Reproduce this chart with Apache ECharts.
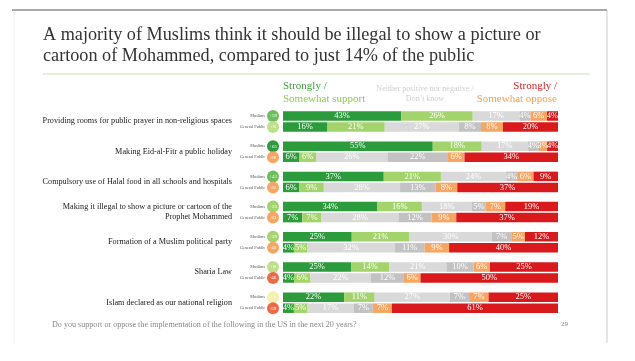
<!DOCTYPE html>
<html><head><meta charset="utf-8">
<script src="https://cdn.jsdelivr.net/npm/echarts@6/dist/echarts.min.js"></script>
<style>html,body{margin:0;padding:0;background:#fff}#c{width:635px;height:361px}</style>
</head><body><div id="c"></div>
<script>
const items = [
  'Providing rooms for public prayer in non-religious spaces',
  'Making Eid-al-Fitr a public holiday',
  'Compulsory use of Halal food in all schools and hospitals',
  'Making it illegal to show a picture or cartoon of the\nProphet Mohammed',
  'Formation of a Muslim political party',
  'Sharia Law',
  'Islam declared as our national religion'
];
const groups = ['Muslims', 'General Public'];
const segments = ['Strongly support', 'Somewhat support', 'Neither positive nor negative', "Don't know", 'Somewhat oppose', 'Strongly oppose'];
const muslims = [
  [43, 26, 17, 4, 6, 4],
  [55, 18, 17, 4, 3, 4],
  [37, 21, 24, 4, 6, 9],
  [34, 16, 18, 5, 7, 19],
  [25, 21, 30, 7, 5, 12],
  [25, 14, 21, 10, 6, 25],
  [22, 11, 27, 7, 7, 25]
];
const generalPublic = [
  [16, 21, 27, 8, 8, 20],
  [6, 6, 26, 22, 6, 34],
  [6, 9, 28, 13, 8, 37],
  [7, 7, 28, 12, 9, 37],
  [4, 5, 32, 11, 9, 40],
  [4, 6, 22, 12, 6, 50],
  [4, 5, 17, 7, 7, 61]
];
const netMuslims = ['+59', '+65', '+43', '+23', '+29', '+8', '+1'];
const netPublic = ['+8', '-28', '-31', '-33', '-40', '-46', '-59'];

const segColors = ['#2b9b3b', '#a3d46b', '#d9d9d9', '#c2c2c2', '#f7a562', '#d9191c'];
const FONT = "'Liberation Serif', 'DejaVu Serif', serif";

function netColor(s) {
  const v = parseInt(s, 10);
  if (v >= 60) return '#2b9b3b';
  if (v >= 40) return '#6cbf5a';
  if (v >= 15) return '#a3d46b';
  if (v >= 5) return '#bfe08a';
  if (v >= 0) return '#f3f0b0';
  if (v > -42) return '#f7a562';
  return '#ec6a45';
}

const rowStep = 30.2;
const gridTop0 = 110.5;
const grids = [], xAxes = [], yAxes = [], series = [], graphics = [];
const richStyles = { n: { fontSize: 4.2, color: '#555', fontFamily: FONT, padding: [0, 2, 0, 0] } };

items.forEach((name, i) => {
  grids.push({ left: 283, right: 77, top: gridTop0 + i * rowStep, height: 22, containLabel: false });
  xAxes.push({ gridIndex: i, type: 'value', min: 0, max: 100, show: false });
  const nets = [netMuslims[i], netPublic[i]];
  nets.forEach((s, j) => {
    richStyles['c' + i + '_' + j] = {
      backgroundColor: netColor(s), borderRadius: 6, width: 12, height: 12,
      align: 'center', color: '#fff', fontSize: 5, fontFamily: FONT, lineHeight: 12
    };
  });
  yAxes.push({
    gridIndex: i, type: 'category', data: groups, inverse: true,
    axisLine: { show: false }, axisTick: { show: false }, splitLine: { show: false },
    axisLabel: {
      margin: 4, interval: 0, hideOverlap: false,
      formatter: (v, idx) => '{n|' + v + '}{c' + i + '_' + idx + '|' + nets[idx] + '}',
      rich: richStyles
    }
  });
  const totM = muslims[i].reduce((a, b) => a + b, 0);
  const totP = generalPublic[i].reduce((a, b) => a + b, 0);
  segments.forEach((seg, k) => {
    series.push({
      name: seg, type: 'bar', stack: 's' + i, xAxisIndex: i, yAxisIndex: i,
      barWidth: 9.5,
      itemStyle: { color: segColors[k] },
      label: {
        show: true, position: 'inside', color: '#fff', fontSize: 8.5, fontFamily: FONT,
        formatter: p => p.data.raw + '%'
      },
      data: [
        { value: muslims[i][k] / totM * 100, raw: muslims[i][k] },
        { value: generalPublic[i][k] / totP * 100, raw: generalPublic[i][k] }
      ]
    });
  });
  graphics.push({
    type: 'text', right: 635 - 232, top: gridTop0 + i * rowStep + 11 - (name.includes('\n') ? 10.5 : 5.5),
    style: { text: name, fill: '#1a1a1a', font: '8.2px ' + FONT, textAlign: 'right', lineHeight: 10.5 }
  });
});

// frame and header
graphics.push(
  { type: 'line', shape: { x1: 12, y1: 10, x2: 607, y2: 10 }, style: { stroke: '#555', lineWidth: 1.2 } },
  { type: 'line', shape: { x1: 607, y1: 10, x2: 607, y2: 343 }, style: { stroke: '#ccc', lineWidth: 1 } },
  { type: 'line', shape: { x1: 14, y1: 12, x2: 14, y2: 343 }, style: { stroke: '#eee', lineWidth: 1 } },
  { type: 'line', shape: { x1: 43, y1: 74, x2: 590, y2: 74 }, style: { stroke: '#c8e4b8', lineWidth: 1.2 } },
  { type: 'text', left: 43, top: 25, style: { text: 'A majority of Muslims think it should be illegal to show a picture or\ncartoon of Mohammed, compared to just 14% of the public', fill: '#333', font: '18.2px ' + FONT, lineHeight: 21 } },
  { type: 'text', left: 283, top: 81, style: { text: 'Strongly /', fill: '#3a9a3a', font: '11px ' + FONT } },
  { type: 'text', left: 283, top: 94, style: { text: 'Somewhat support', fill: '#8fc850', font: '11px ' + FONT } },
  { type: 'text', x: 425, y: 83.5, style: { text: 'Neither positive nor negative /\nDon\u2019t know', fill: '#cfcfcf', font: '8px ' + FONT, textAlign: 'center', lineHeight: 10 } },
  { type: 'text', right: 635 - 557, top: 81, style: { text: 'Strongly /', fill: '#d42020', font: '11px ' + FONT, textAlign: 'right' } },
  { type: 'text', right: 635 - 557, top: 94, style: { text: 'Somewhat oppose', fill: '#f5a050', font: '11px ' + FONT, textAlign: 'right' } },
  { type: 'text', left: 52, top: 320.5, style: { text: 'Do you support or oppose the implementation of the following in the US in the next 20 years?', fill: '#888', font: '8.1px ' + FONT } },
  { type: 'text', left: 561, top: 321, style: { text: '29', fill: '#888', font: '7px ' + FONT } }
);

const chart = echarts.init(document.getElementById('c'), null, { renderer: 'canvas' });
chart.setOption({
  animation: false,
  grid: grids, xAxis: xAxes, yAxis: yAxes, series: series,
  graphic: graphics
});
</script></body></html>
